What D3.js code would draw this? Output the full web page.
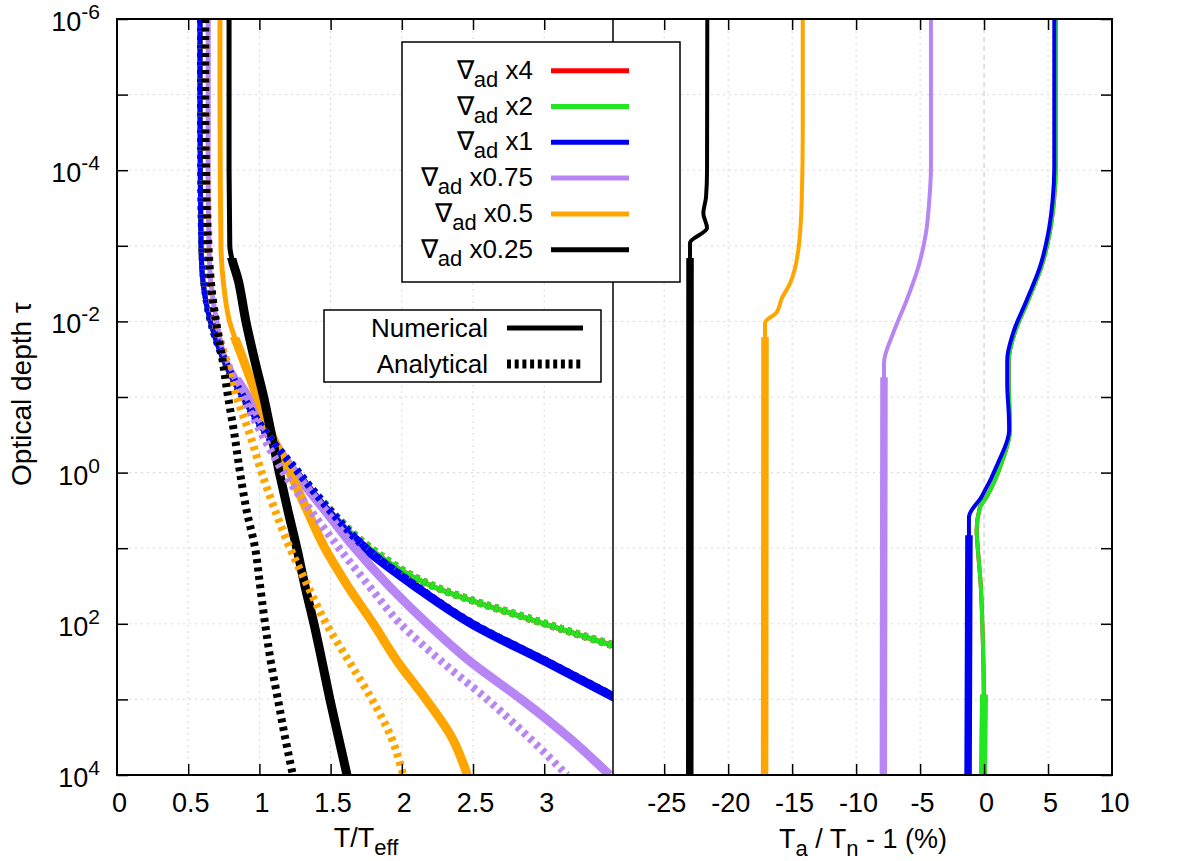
<!doctype html>
<html lang="en">

<head>
    <meta charset="UTF-8">
    <title>Optical depth</title>
    <style>
        body { margin: 0; background: #fff; }
        text { font-family: "Liberation Sans", Arial, Helvetica, sans-serif; fill: #000; }
    </style>
</head>

<body>
    <svg width="1200" height="861"></svg>
    <script src="https://cdn.jsdelivr.net/npm/d3@7"></script>
    <script>
    // series labels and colours (legend order)
    var labels = ['x4', 'x2', 'x1', 'x0.75', 'x0.5', 'x0.25'];
    var colors = ['#ff0000', '#22e622', '#0000f0', '#b885f5', '#ffa500', '#000000'];
    // log10(tau) where each numerical curve turns thick
    var convTau = [2.94, 2.94, 0.83, -1.26, -1.79, -2.84];

    // left panel: log10(tau) grid and T/Teff values
    var tauExp = [-6, -5, -4, -3, -2.5, -2, -1.5, -1, -0.5, 0, 0.5, 1, 1.5, 2, 2.5, 3, 3.5, 4];
    var numX2 = [0.583, 0.583, 0.585, 0.59, 0.605, 0.655, 0.745, 0.88, 1.05, 1.27, 1.49, 1.77, 2.21, 3.0, 3.84, null, null, null];
    var anaX2 = [0.59, 0.59, 0.592, 0.60, 0.615, 0.66, 0.75, 0.885, 1.055, 1.275, 1.50, 1.78, 2.22, 3.01, 3.85, null, null, null];
    var numX1 = [0.583, 0.583, 0.585, 0.59, 0.605, 0.655, 0.745, 0.88, 1.05, 1.27, 1.49, 1.74, 2.09, 2.49, 3.01, 3.52, null, null];
    var anaX1 = [0.59, 0.59, 0.592, 0.60, 0.615, 0.66, 0.75, 0.885, 1.055, 1.275, 1.495, 1.75, 2.10, 2.50, 3.02, 3.53, null, null];
    var numX075 = [0.64, 0.64, 0.64, 0.646, 0.66, 0.70, 0.765, 0.92, 1.07, 1.25, 1.46, 1.67, 1.91, 2.18, 2.48, 2.84, 3.17, 3.46];
    var anaX075 = [0.63, 0.63, 0.632, 0.645, 0.66, 0.695, 0.765, 0.885, 1.02, 1.17, 1.36, 1.56, 1.77, 1.99, 2.28, 2.6, 2.89, 3.16];
    var numX05 = [0.723, 0.723, 0.725, 0.73, 0.748, 0.79, 0.885, 0.985, 1.086, 1.215, 1.335, 1.46, 1.62, 1.80, 1.97, 2.17, 2.35, 2.46];
    var anaX05 = [0.625, 0.625, 0.628, 0.64, 0.66, 0.69, 0.76, 0.84, 0.934, 1.016, 1.11, 1.215, 1.34, 1.47, 1.63, 1.79, 1.925, 2.01];
    var numX025 = [0.787, 0.787, 0.787, 0.792, 0.857, 0.905, 0.965, 1.03, 1.085, 1.14, 1.20, 1.263, 1.32, 1.383, 1.44, 1.495, 1.555, 1.615];
    var anaX025 = [0.62, 0.62, 0.625, 0.64, 0.66, 0.695, 0.74, 0.78, 0.825, 0.864, 0.91, 0.97, 1.005, 1.04, 1.08, 1.13, 1.18, 1.235];

    // right panel: Ta/Tn - 1 (%) against log10(tau)
    var devTauX2 = [-6, -4.04, -3.6, -3.17, -2.72, -2.28, -1.85, -1.49, -1.18, -0.74, -0.56, -0.13, 0.32, 0.46, 0.76, 0.98, 1.46, 2.08, 2.94, 4];
    var devX2 = [5.6, 5.6, 5.47, 5.13, 4.48, 3.45, 2.4, 1.93, 1.93, 2.0, 2.02, 1.37, 0.2, -0.32, -0.58, -0.5, -0.27, -0.12, -0.02, -0.07];
    var devTauX1 = [-6, -4.04, -3.6, -3.17, -2.72, -2.28, -1.85, -1.49, -1.18, -0.74, -0.56, -0.13, 0.32, 0.59, 0.83, 4];
    var devX1 = [5.49, 5.49, 5.36, 5.02, 4.37, 3.33, 2.28, 1.81, 1.81, 1.94, 1.96, 1.10, -0.19, -1.18, -1.18, -1.25];
    var devTauX075 = [-6, -4.04, -3.6, -3.17, -2.72, -2.28, -1.85, -1.45, -1.26, 4];
    var devX075 = [-4.15, -4.15, -4.28, -4.54, -5.14, -6.05, -7.09, -7.82, -7.82, -7.87];
    var devTauX05 = [-6, -4.5, -3.6, -2.94, -2.5, -2.3, -2.12, -1.98, -1.79, 4];
    var devX05 = [-14.17, -14.17, -14.25, -14.52, -15.17, -15.82, -16.21, -17.12, -17.12, -17.15];
    var devTauX025 = [-6, -4, -3.645, -3.43, -3.235, -3.04, -2.84, 4];
    var devX025 = [-21.63, -21.65, -21.73, -21.94, -21.65, -22.98, -22.98, -23.0];

    // ticks
    var tauTicks = [1e-6, 1e-5, 1e-4, 1e-3, 1e-2, 1e-1, 1, 1e1, 1e2, 1e3, 1e4];
    var tauLabelExp = [-6, -4, -2, 0, 2, 4];
    var leftTicks = [0, 0.5, 1, 1.5, 2, 2.5, 3];
    var rightTicks = [-25, -20, -15, -10, -5, 0, 5, 10];

    // x4 lies under x2 everywhere in the picture
    var numCurves = [numX2, numX2, numX1, numX075, numX05, numX025];
    var anaCurves = [anaX2, anaX2, anaX1, anaX075, anaX05, anaX025];
    var devTaus = [devTauX2, devTauX2, devTauX1, devTauX075, devTauX05, devTauX025];
    var devCurves = [devX2, devX2, devX1, devX075, devX05, devX025];

    var svg = d3.select('svg');
    var plotTop = 19, plotBottom = 775, plotLeft = 117, plotMid = 613, plotRight = 1112;
    var fontSize = 27;

    var y = d3.scaleLog().domain([1e-6, 1e4]).range([plotTop, plotBottom]);
    var xL = d3.scaleLinear().domain([0, 3.483]).range([plotLeft, plotMid]);
    var xR = d3.scaleLinear().domain([-29, 10]).range([plotMid, plotRight]);

    var defs = svg.append('defs');
    function addClip(id, x0, x1, y0) {
        defs.append('clipPath').attr('id', id)
            .append('rect')
            .attr('x', x0).attr('y', y0)
            .attr('width', x1 - x0).attr('height', plotBottom - y0);
    }
    addClip('clipL', plotLeft, plotMid, plotTop);
    addClip('clipR', plotMid, plotRight, plotTop);
    convTau.forEach(function(c, i) {
        addClip('thickL' + i, plotLeft, plotMid, y(Math.pow(10, c)));
        addClip('thickR' + i, plotMid, plotRight, y(Math.pow(10, c)));
    });

    // grid
    var grid = svg.append('g').attr('class', 'grid')
        .attr('stroke', '#d8d8d8').attr('stroke-width', 1).attr('stroke-dasharray', '2,4');
    grid.selectAll('.gy').data(tauTicks.slice(1, -1)).enter().append('line')
        .attr('x1', plotLeft).attr('x2', plotRight)
        .attr('y1', function(d) { return y(d); }).attr('y2', function(d) { return y(d); });
    grid.selectAll('.gxl').data(leftTicks.slice(1)).enter().append('line')
        .attr('x1', function(d) { return xL(d); }).attr('x2', function(d) { return xL(d); })
        .attr('y1', plotTop).attr('y2', plotBottom);
    grid.selectAll('.gxr').data(rightTicks.slice(0, -1).filter(function(d) { return d !== 0; })).enter().append('line')
        .attr('x1', function(d) { return xR(d); }).attr('x2', function(d) { return xR(d); })
        .attr('y1', plotTop).attr('y2', plotBottom);
    svg.append('line')
        .attr('x1', xR(0)).attr('x2', xR(0)).attr('y1', plotTop).attr('y2', plotBottom)
        .attr('stroke', '#c4c4c4').attr('stroke-width', 1).attr('stroke-dasharray', '5,4');

    // curves
    function lineFor(xs) {
        return d3.line()
            .defined(function(d) { return d[1] !== null; })
            .x(function(d) { return xs(d[1]); })
            .y(function(d) { return y(Math.pow(10, d[0])); })
            .curve(d3.curveMonotoneY);
    }
    var lineL = lineFor(xL);
    var lineR = lineFor(xR);
    var curves = svg.append('g').attr('fill', 'none');

    labels.forEach(function(name, i) {
        var pts = d3.zip(tauExp, numCurves[i]);
        curves.append('path').attr('d', lineL(pts))
            .attr('stroke', colors[i]).attr('stroke-width', 5).attr('clip-path', 'url(#clipL)');
        curves.append('path').attr('d', lineL(pts))
            .attr('stroke', colors[i]).attr('stroke-width', 9).attr('clip-path', 'url(#thickL' + i + ')');
        var dpts = d3.zip(devTaus[i], devCurves[i]);
        curves.append('path').attr('d', lineR(dpts))
            .attr('stroke', colors[i]).attr('stroke-width', 4).attr('clip-path', 'url(#clipR)');
        curves.append('path').attr('d', lineR(dpts))
            .attr('stroke', colors[i]).attr('stroke-width', 7.5).attr('clip-path', 'url(#thickR' + i + ')');
    });
    labels.forEach(function(name, i) {
        curves.append('path').attr('d', lineL(d3.zip(tauExp, anaCurves[i])))
            .attr('stroke', colors[i]).attr('stroke-width', 8)
            .attr('stroke-dasharray', '4,4.5').attr('clip-path', 'url(#clipL)');
    });

    // ticks (inward)
    function tickAxis(axis, tx, ty) {
        var g = svg.append('g').attr('transform', 'translate(' + tx + ',' + ty + ')').call(axis);
        g.select('.domain').remove();
        g.selectAll('line').attr('stroke', '#000').attr('stroke-width', 1.5);
        return g;
    }
    tickAxis(d3.axisLeft(y).tickValues(tauTicks).tickSize(-11).tickFormat(''), plotLeft, 0);
    tickAxis(d3.axisRight(y).tickValues(tauTicks).tickSize(-11).tickFormat(''), plotRight, 0);
    tickAxis(d3.axisTop(xL).tickValues(leftTicks.slice(1)).tickSize(-11).tickFormat(''), 0, plotTop);
    tickAxis(d3.axisTop(xR).tickValues(rightTicks.slice(0, -1)).tickSize(-11).tickFormat(''), 0, plotTop);

    function bottomAxis(scale, values, edge) {
        var axis = d3.axisBottom(scale).tickValues(values).tickSize(-11).tickPadding(18)
            .tickFormat(function(d) { return String(d); });
        var g = tickAxis(axis, 0, plotBottom);
        g.selectAll('line').filter(function(d) { return d === edge; }).remove();
        g.selectAll('text')
            .attr('font-family', '"Liberation Sans", Arial, Helvetica, sans-serif')
            .attr('font-size', fontSize).attr('dx', 2).attr('fill', '#000');
    }
    bottomAxis(xL, leftTicks, 0);
    bottomAxis(xR, rightTicks, 10);

    // y tick labels 10^n
    var ylab = svg.append('g').attr('font-size', fontSize).attr('text-anchor', 'end');
    ylab.selectAll('text').data(tauLabelExp).enter().append('text')
        .attr('x', 100)
        .attr('y', function(d) { return y(Math.pow(10, d)) + 12; })
        .each(function(d) {
            var t = d3.select(this);
            t.append('tspan').text('10');
            t.append('tspan').attr('dy', -12).attr('font-size', 21).text(d);
        });

    // frame
    svg.append('rect')
        .attr('x', plotLeft).attr('y', plotTop)
        .attr('width', plotRight - plotLeft).attr('height', plotBottom - plotTop)
        .attr('fill', 'none').attr('stroke', '#000').attr('stroke-width', 2);
    svg.append('line')
        .attr('x1', plotMid).attr('x2', plotMid).attr('y1', plotTop).attr('y2', plotBottom)
        .attr('stroke', '#000').attr('stroke-width', 1.5);

    // axis titles
    var tl = svg.append('text').attr('x', 366).attr('y', 847).attr('text-anchor', 'middle').attr('font-size', fontSize);
    tl.append('tspan').text('T/T');
    tl.append('tspan').attr('dy', 8).attr('font-size', 22).text('eff');

    var tr = svg.append('text').attr('x', 863).attr('y', 848).attr('text-anchor', 'middle').attr('font-size', fontSize);
    tr.append('tspan').text('T');
    tr.append('tspan').attr('dy', 8).attr('font-size', 22).text('a');
    tr.append('tspan').attr('dy', -8).text(' / T');
    tr.append('tspan').attr('dy', 8).attr('font-size', 22).text('n');
    tr.append('tspan').attr('dy', -8).text(' - 1 (%)');

    svg.append('text')
        .attr('transform', 'translate(31,394) rotate(-90)')
        .attr('text-anchor', 'middle').attr('font-size', 28)
        .text('Optical depth \u03c4');

    // legend of series
    var leg = svg.append('g');
    leg.append('rect').attr('x', 402).attr('y', 42).attr('width', 278).attr('height', 240)
        .attr('fill', '#fff').attr('stroke', '#000').attr('stroke-width', 1.5);
    labels.forEach(function(name, i) {
        var ly = 70.7 + i * 35.8;
        var t = leg.append('text').attr('x', 533).attr('y', ly + 8)
            .attr('text-anchor', 'end').attr('font-size', 26);
        t.append('tspan').text('\u2207');
        t.append('tspan').attr('dy', 8).attr('font-size', 22).text('ad');
        t.append('tspan').attr('dy', -8).text(' ' + name);
        leg.append('line').attr('x1', 551).attr('x2', 629).attr('y1', ly).attr('y2', ly)
            .attr('stroke', colors[i]).attr('stroke-width', 5);
    });

    // legend of line styles
    var leg2 = svg.append('g');
    leg2.append('rect').attr('x', 324).attr('y', 310).attr('width', 277).attr('height', 72)
        .attr('fill', '#fff').attr('stroke', '#000').attr('stroke-width', 1.5);
    leg2.append('text').attr('x', 488).attr('y', 337).attr('text-anchor', 'end').attr('font-size', 26).text('Numerical');
    leg2.append('line').attr('x1', 507).attr('x2', 583).attr('y1', 328).attr('y2', 328)
        .attr('stroke', '#000').attr('stroke-width', 5);
    leg2.append('text').attr('x', 488).attr('y', 373).attr('text-anchor', 'end').attr('font-size', 26).text('Analytical');
    leg2.append('line').attr('x1', 507).attr('x2', 583).attr('y1', 364).attr('y2', 364)
        .attr('stroke', '#000').attr('stroke-width', 9).attr('stroke-dasharray', '4,3.7');
    </script>
</body>

</html>
